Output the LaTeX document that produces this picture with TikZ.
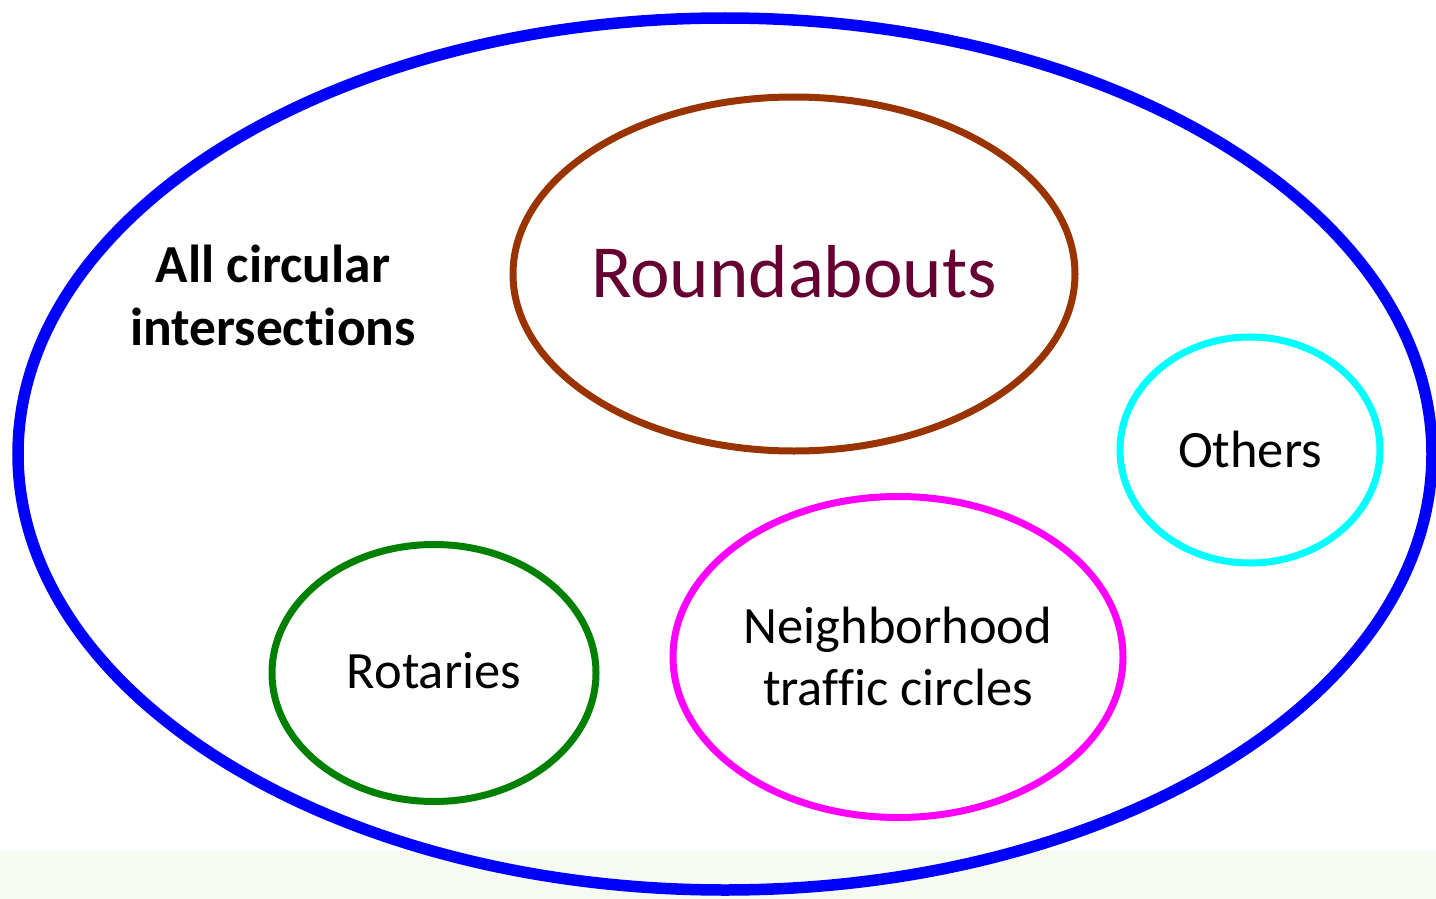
\documentclass[tikz,border=0pt]{standalone}
\usepackage{fontspec}
\setmainfont{Carlito}[Ligatures={NoCommon}]
\usetikzlibrary{shapes.geometric}
\definecolor{bandgreen}{HTML}{F5FAF3}
\definecolor{rbrown}{HTML}{993300}
\definecolor{rtext}{HTML}{660033}
\definecolor{rgreen}{HTML}{008000}
\definecolor{rcyan}{HTML}{00FFFF}
\definecolor{rmagenta}{HTML}{FF00FF}
\definecolor{rblue}{HTML}{0000FF}
\tikzset{
  oval/.style={ellipse, draw, inner sep=0pt, outer sep=0pt},
  lbl/.style={anchor=base, align=center, text=black, inner sep=0pt}
}
\begin{document}
\begin{tikzpicture}[x=1pt,y=-1pt]
\useasboundingbox (0,0) rectangle (1436,899);
\fill[bandgreen] (0,851) rectangle (1436,899);
% outer
\node[oval, draw=rblue, line width=11.5pt, minimum width=1414pt, minimum height=872pt] (all) at (725,454) {};
\node[oval, draw=rbrown, line width=7pt, minimum width=562pt, minimum height=354pt] (round) at (794,274) {};
\node[oval, draw=rcyan, line width=7pt, minimum width=260pt, minimum height=226pt] (oth) at (1250,450) {};
\node[oval, draw=rgreen, line width=7pt, minimum width=324pt, minimum height=257pt] (rot) at (434,673) {};
\node[oval, draw=rmagenta, line width=7pt, minimum width=450pt, minimum height=321pt] (nbh) at (898,657) {};
% labels
\node[lbl, font=\fontsize{53.5}{63}\selectfont\bfseries] (tall) at (273,345) {All circular\\intersections};
\node[lbl, text=rtext, font=\fontsize{75}{80}\selectfont] (tround) at (794,297) {Roundabouts};
\node[lbl, font=\fontsize{52.5}{62}\selectfont] (toth) at (1250,467) {Others};
\node[lbl, font=\fontsize{52.5}{62}\selectfont] (trot) at (434,688) {Rotaries};
\node[lbl, font=\fontsize{52.5}{62}\selectfont] (tnbh) at (898,705) {Neighborhood\\traffic circles};
\end{tikzpicture}
\end{document}
